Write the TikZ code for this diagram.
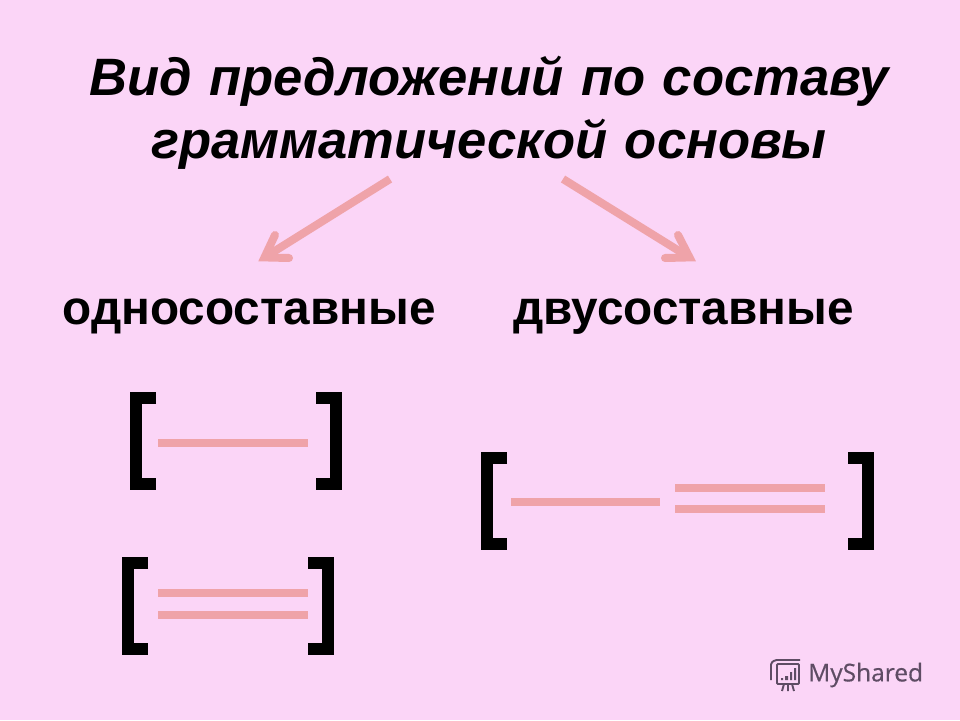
\documentclass[tikz,border=0pt]{standalone}
\usepackage{fontspec}
\setmainfont{Liberation Sans}
\newfontfamily\titlefont[WordSpace=1.2]{Liberation Sans}
\newfontfamily\logofont[FakeBold=0.5]{Open Sans}
\definecolor{bgpink}{HTML}{FBD5F7}
\definecolor{rosy}{HTML}{EFA3A9}
\definecolor{logogrey}{HTML}{5E4C64}
\tikzset{
  x=1pt,y=-1pt,
  titletext/.style={font=\titlefont\fontsize{52.6}{52.6}\selectfont\bfseries\itshape,inner sep=0,anchor=base,text=black},
  labeltext/.style={font=\fontsize{47.7}{47.7}\selectfont\bfseries,inner sep=0,anchor=base,text=black},
  brk/.style={draw=black,line width=12.5pt,miter limit=10},
  bar/.style={draw=rosy,line width=8pt},
  arrowline/.style={draw=rosy,line width=8pt},
  arrowhead/.style={draw=rosy,line width=8pt,line cap=round,line join=miter,miter limit=10},
  logoline/.style={draw=logogrey,line width=1.9pt},
}
\newcommand{\bracketpair}[4]{%
  \draw[brk] (#1+26,#3+6.2) -- (#1+6.2,#3+6.2) -- (#1+6.2,#4-6.2) -- (#1+26,#4-6.2);
  \draw[brk] (#2-26,#3+6.2) -- (#2-6.2,#3+6.2) -- (#2-6.2,#4-6.2) -- (#2-26,#4-6.2);
}
\begin{document}
\begin{tikzpicture}
\useasboundingbox[fill=bgpink] (0,0) rectangle (960,720);
\node[titletext] (t1) at (489,95) {Вид предложений по составу};
\node[titletext] (t2) at (489,158) {грамматической основы};
\node[labeltext] (l1) at (249,324) {односоставные};
\node[labeltext] (l2) at (683.5,324) {двусоставные};
\coordinate (a1s) at (390,179);
\coordinate (a1e) at (264.5,257.4);
\coordinate (a1p) at (275,235);
\coordinate (a1q) at (289,258);
\coordinate (a2s) at (563,179);
\coordinate (a2e) at (689.5,257.4);
\coordinate (a2p) at (678,235);
\coordinate (a2q) at (665,258);
\draw[arrowline] (a1s) -- (a1e);
\draw[arrowhead] (a1p) -- (a1e) -- (a1q);
\draw[arrowline] (a2s) -- (a2e);
\draw[arrowhead] (a2p) -- (a2e) -- (a2q);
\bracketpair{130}{342}{392}{490}
\draw[bar] (158,443) -- (308,443);
\bracketpair{122}{334}{557}{655}
\draw[bar] (158,593) -- (308,593);
\draw[bar] (158,615) -- (308,615);
\bracketpair{481}{874}{452}{550}
\draw[bar] (511,502) -- (660,502);
\draw[bar] (675,488) -- (825,488);
\draw[bar] (675,509) -- (825,509);
% logo
\draw[logoline,rounded corners=1pt] (777,664) rectangle (799,684);
\draw[logoline,rounded corners=1.5pt] (771,680) -- (771,663) -- (775,660) -- (800,660);
\draw[logoline] (784,684) -- (782,691) (788,684) -- (788,691) (792,684) -- (794,691);
\fill[logogrey] (781,678) rectangle (783,680) (785,676) rectangle (788,680) (790,672) rectangle (792,680) (794,668) rectangle (796,680);
\node[font=\logofont\fontsize{24.5}{24.5}\selectfont,text=logogrey,inner sep=0,anchor=west] (logo) at (808,675) {MyShared};
\end{tikzpicture}
\end{document}
